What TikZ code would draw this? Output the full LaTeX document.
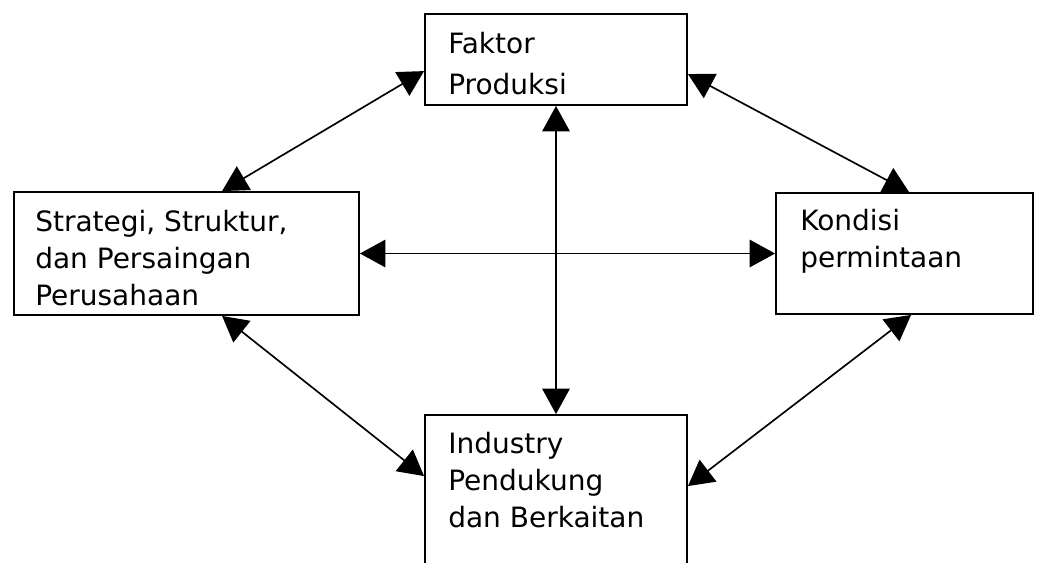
\documentclass[tikz,border=0pt]{standalone}
\usepackage{fontspec}
\setmainfont{DejaVu Sans}
\usetikzlibrary{arrows.meta,calc}
\tikzset{
  box/.style={draw=black, line width=1.4pt, rectangle, inner sep=0pt},
  label text/.style={anchor=north west, inner sep=0pt, align=left, text=black,
    font=\fontsize{21pt}{27.75pt}\selectfont},
  link/.style={line width=1.25pt, draw=black,
    {Triangle[width=20.5pt,length=19pt]}-{Triangle[width=20.5pt,length=19pt]}}
}
\begin{document}
\begin{tikzpicture}[x=0.75pt,y=-0.75pt]
\clip (0,0) rectangle (1037,562);
\useasboundingbox (0,0) rectangle (1037,562);
\fill[white] (0,0) rectangle (1037,562);
% boxes
\node[box, minimum width=262*0.75pt, minimum height=91*0.75pt] (T) at (556,59.5) {};
\node[box, minimum width=345*0.75pt, minimum height=123*0.75pt] (L) at (186.5,253.5) {};
\node[box, minimum width=257*0.75pt, minimum height=121*0.75pt] (R) at (904.5,253.5) {};
\node[box, minimum width=262*0.75pt, minimum height=165*0.75pt] (B) at (556,497.5) {};
% texts
\node[label text, font=\fontsize{21pt}{30.5pt}\selectfont] (tT) at (448,32) {Faktor\\Produksi};
\node[label text] (tL) at (35,209.7) {Strategi, Struktur,\\dan Persaingan\\Perusahaan};
\node[label text] (tR) at (800,208.7) {Kondisi\\permintaan};
\node[label text] (tB) at (448,431.7) {Industry\\Pendukung\\dan Berkaitan};
% connector end points on box edges
\coordinate (LT) at ($(L.north west)+(209,0)$);
\coordinate (TL) at ($(T.north west)+(0,58)$);
\coordinate (TR) at ($(T.north east)+(0,61)$);
\coordinate (RT) at ($(R.north west)+(134,0)$);
\coordinate (LB) at ($(L.south west)+(209,0)$);
\coordinate (BL) at ($(B.north west)+(0,62)$);
\coordinate (RB) at ($(R.south west)+(136,0)$);
\coordinate (BR) at ($(B.north east)+(0,72)$);
% connectors
\draw[link] (LT) -- (TL);
\draw[link] (TR) -- (RT);
\draw[link] (LB) -- (BL);
\draw[link] (RB) -- (BR);
\draw[link] (L.east) -- (R.west);
\draw[link] (T.south) -- (B.north);
\end{tikzpicture}
\end{document}
